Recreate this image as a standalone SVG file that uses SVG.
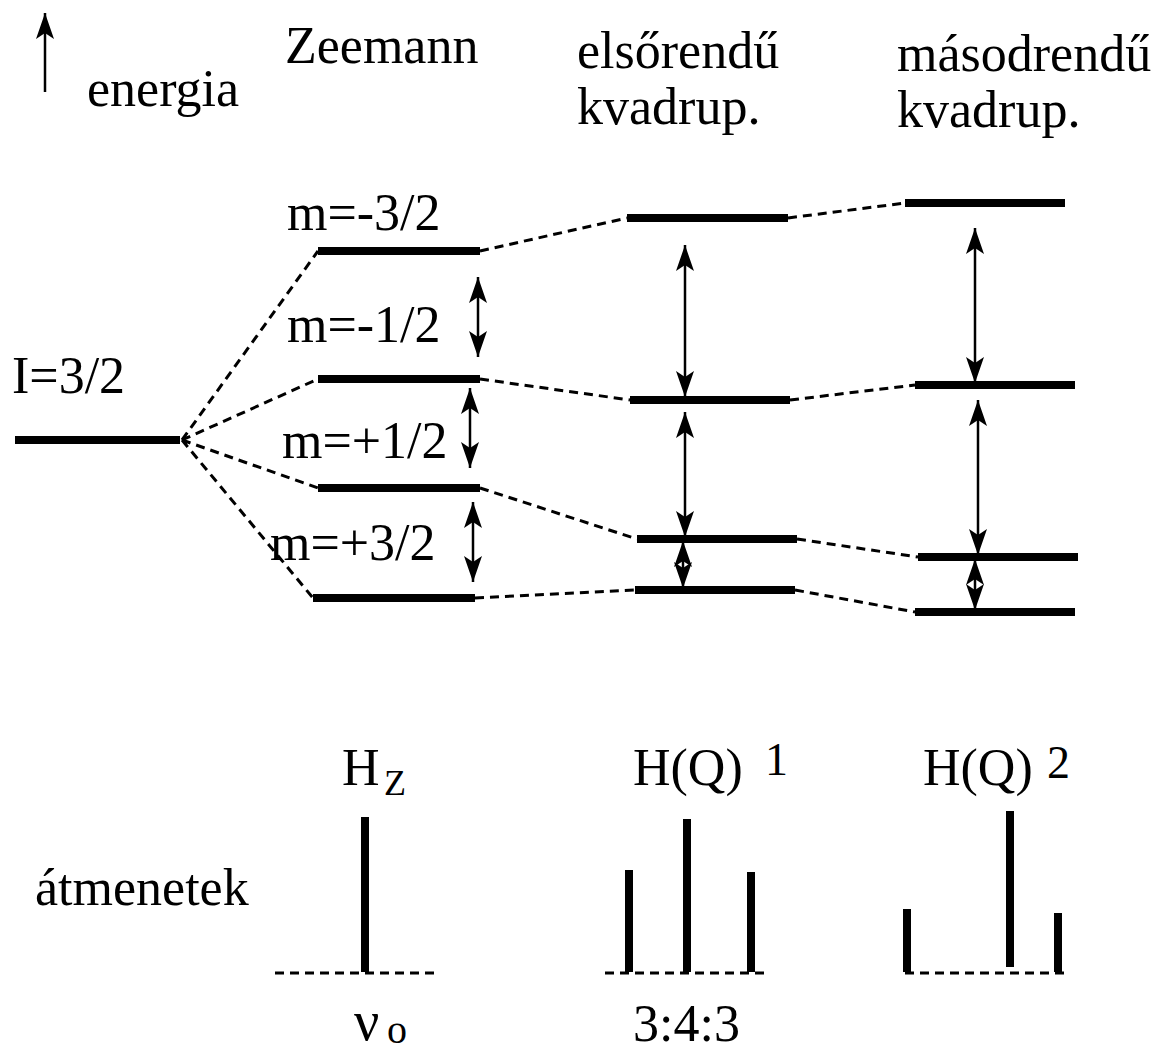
<svg xmlns="http://www.w3.org/2000/svg" width="1162" height="1053" viewBox="0 0 1162 1053">
<style>
text{font-family:"Liberation Serif","Times New Roman",serif;font-size:52px;fill:#000}
.sub{font-size:36px}
.sup{font-size:46px}
.lvl{stroke:#000;stroke-width:8;fill:none}
.dash{stroke:#000;stroke-width:3;stroke-dasharray:9 6;fill:none}
.arr{stroke:#000;stroke-width:2.5;fill:none;marker-start:url(#ah);marker-end:url(#ah)}
.stick{stroke:#000;stroke-width:8;fill:none}
</style>
<defs>
<marker id="ah" viewBox="0 0 26 18" refX="26" refY="9" markerWidth="26" markerHeight="18" orient="auto-start-reverse" markerUnits="userSpaceOnUse"><path d="M0,0 L26,9 L0,18 L6,9 Z" fill="#000"/></marker>
</defs>
<g id="axis">
<line x1="45" y1="92" x2="45" y2="13" stroke="#000" stroke-width="2.5" marker-end="url(#ah)"/>
<text x="87" y="106">energia</text>
</g>
<g id="headers">
<text x="285" y="63">Zeemann</text>
<text x="577" y="68">elsőrendű</text>
<text x="577" y="124">kvadrup.</text>
<text x="897" y="71">másodrendű</text>
<text x="897" y="127">kvadrup.</text>
</g>
<g id="ground">
<line class="lvl" x1="15" y1="440" x2="180" y2="440"/>
<text x="12" y="393">I=3/2</text>
</g>
<g id="zeeman">
<line class="lvl" x1="318" y1="251" x2="480" y2="251"/>
<line class="lvl" x1="318" y1="379" x2="480" y2="379"/>
<line class="lvl" x1="318" y1="488" x2="480" y2="488"/>
<line class="lvl" x1="313" y1="598" x2="475" y2="598"/>
<text x="287" y="230">m=-3/2</text>
<text x="287" y="342">m=-1/2</text>
<text x="282" y="458">m=+1/2</text>
<text x="270" y="560">m=+3/2</text>
</g>
<g id="first">
<line class="lvl" x1="627" y1="218" x2="788" y2="218"/>
<line class="lvl" x1="630" y1="400" x2="790" y2="400"/>
<line class="lvl" x1="637" y1="539" x2="797" y2="539"/>
<line class="lvl" x1="635" y1="590" x2="795" y2="590"/>
</g>
<g id="second">
<line class="lvl" x1="905" y1="203" x2="1065" y2="203"/>
<line class="lvl" x1="915" y1="385" x2="1075" y2="385"/>
<line class="lvl" x1="918" y1="557" x2="1078" y2="557"/>
<line class="lvl" x1="915" y1="612" x2="1075" y2="612"/>
</g>
<g id="connectors">
<path class="dash" d="M182,440 L318,251 M182,440 L318,379 M182,440 L318,488 M182,440 L313,598"/>
<path class="dash" d="M480,251 L627,218 M480,379 L630,400 M480,488 L637,539 M475,598 L635,590"/>
<path class="dash" d="M788,218 L905,203 M790,400 L915,385 M797,539 L918,557 M795,590 L915,612"/>
<line class="arr" x1="478" y1="277" x2="478" y2="357"/>
<line class="arr" x1="470" y1="388" x2="470" y2="468"/>
<line class="arr" x1="473" y1="502" x2="473" y2="582"/>
<line class="arr" x1="685" y1="245" x2="685" y2="397"/>
<line class="arr" x1="685" y1="412" x2="685" y2="537"/>
<line class="arr" x1="683" y1="541" x2="683" y2="588"/>
<line class="arr" x1="975" y1="228" x2="975" y2="383"/>
<line class="arr" x1="978" y1="400" x2="978" y2="555"/>
<line class="arr" x1="975" y1="559" x2="975" y2="610"/>
</g>
<g id="spectrum-zeeman">
<text x="342" y="785">H</text><text class="sub" x="384" y="795">Z</text>
<line class="stick" x1="365" y1="817" x2="365" y2="972"/>
<line class="dash" x1="275" y1="973" x2="435" y2="973"/>
<text x="354" y="1040" style="font-size:56px">ν</text><text x="387" y="1043" style="font-size:40px">o</text>
</g>
<g id="spectrum-first">
<text x="633" y="785">H(Q)</text><text class="sup" x="765" y="775">1</text>
<line class="stick" x1="629" y1="870" x2="629" y2="972"/>
<line class="stick" x1="687" y1="819" x2="687" y2="972"/>
<line class="stick" x1="751" y1="872" x2="751" y2="972"/>
<line class="dash" x1="605" y1="973" x2="768" y2="973"/>
<text x="633" y="1041">3:4:3</text>
</g>
<g id="spectrum-second">
<text x="923" y="785">H(Q)</text><text class="sup" x="1047" y="778">2</text>
<line class="stick" x1="907" y1="909" x2="907" y2="972"/>
<line class="stick" x1="1010" y1="811" x2="1010" y2="967"/>
<line class="stick" x1="1058" y1="913" x2="1058" y2="972"/>
<line class="dash" x1="905" y1="973" x2="1068" y2="973"/>
</g>
<text x="35" y="905">átmenetek</text>
</svg>
